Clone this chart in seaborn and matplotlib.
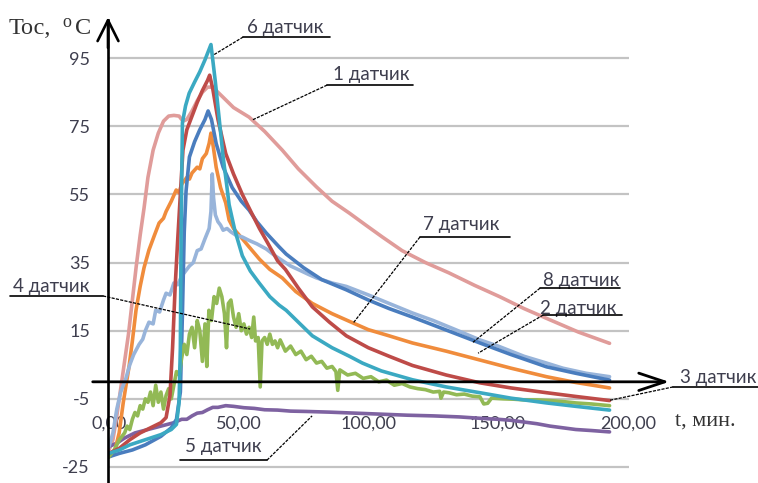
import matplotlib
matplotlib.use("Agg")
import matplotlib.pyplot as plt
import pandas as pd
import seaborn as sns

# ---- measured temperatures, °C, versus time, min ----
s1_t = [0, 1.5, 3, 4.5, 6, 7.5, 9, 10.5, 12, 13.5, 15, 17, 19, 21, 23, 25, 27, 28.5, 30, 32,
        34, 36, 38, 40, 41.3, 44, 48, 54, 60, 66.8, 73, 80, 86, 92.7, 99, 105.4, 113, 122, 131,
        141, 150.6, 160, 170, 181, 193]
s1_v = [-20, -17, -10, -2, 6, 14, 24, 34, 43, 51, 60, 68, 73, 76.5, 78, 78.2, 78, 76.5, 77, 79.5,
        82.5, 85, 86.5, 86.5, 85.5, 83.5, 80.5, 77.7, 73.5, 68, 62.5, 57.2, 53, 49.5, 46, 42.5,
        38.5, 35, 32, 28.3, 25, 21.5, 18.2, 14.6, 11.3]

s2_t = [0, 4, 9, 14, 20, 24, 26, 27.5, 28.3, 29, 29.7, 31, 33, 35, 37, 38.2, 39.5, 41.3, 44,
        47.5, 51, 54, 57, 60.6, 65.6, 68.3, 75, 82, 91.5, 100, 108, 117, 130, 143, 155, 168.7,
        180, 193]
s2_v = [-22, -21, -20, -18.5, -16, -13.5, -11, -3, 20, 44, 56, 66, 70.5, 74, 77, 79.5, 77, 70, 63,
        57, 53, 50.4, 47, 43.7, 39.6, 37.5, 33.5, 30, 27, 24, 21.5, 19, 15.2, 11.4, 8, 4.4,
        2.5, 0.5]

s3_t = [0, 4, 8, 12, 16, 20, 22, 23.5, 24.5, 25.5, 26.5, 27.5, 28.5, 30, 32, 34, 36, 38, 38.8,
        40, 42, 45, 48, 51.4, 55, 58, 61, 65, 68, 73, 78.4, 85, 91.5, 100, 108, 117, 130, 143,
        155, 168.7, 180, 193]
s3_v = [-21, -19.5, -17, -15, -13.5, -12, -10.5, -4, 10, 28, 42, 55, 68, 74, 78, 82, 85.5, 88.5, 90,
        86, 77, 67, 61, 55, 49.5, 45, 41, 35.5, 33, 27.5, 22, 17.5, 13.5, 10, 7.5, 4.8, 2, -0.3,
        -1.8, -3.2, -4.3, -5.5]

s4_t = [0, 1, 2, 3, 4, 5, 6, 7, 8, 9, 10, 11, 12, 13, 14, 15, 16, 17, 18, 19, 20, 21, 22, 23,
        24, 25, 26, 27, 28, 29, 30, 31, 32, 33, 34, 35, 36, 37, 37.7, 38.5, 39.5, 40.5, 41.5,
        42.5, 43.5, 44.5, 45.3, 46, 47, 48, 49, 50, 51, 52, 53, 54, 55, 55.8, 56.5, 57.5, 58.3,
        59, 60, 61, 62, 63, 64, 65, 66, 68, 70, 72, 74, 76, 78, 80, 82, 84, 86, 87.5, 88.2, 89,
        90, 92, 95, 98, 101, 104, 107, 110, 113, 116, 119, 122, 125, 127.5, 128, 129, 131, 134,
        137, 140, 143, 144.5, 146, 147.5, 152, 156, 160, 165, 170, 175, 180, 186, 193]
s4_v = [-22, -21, -20, -18.5, -17, -16, -15, -13, -14, -11, -9, -10, -7, -8, -5, -6, -3, -7, -1,
        -6, -3, -8, -4, -2, -5, -1, 3, 2, 7, 11, 8, 14, 16, 10, 18, 15, 6, 17, 4.5, 21, 18, 25,
        23, 27.5, 25, 20, 10, 23, 24, 19, 16, 20, 15, 17, 14, 16, 13, 19, 12, 13, -1.5,
        12, 13, 11, 14, 11, 12, 10, 12.3, 9, 10.5, 8, 9, 6.5, 7.5, 5.5, 6, 4, 4.5, 3, -2.5, 3.5,
        3, 2, 2.5, 1, 1.5, 0, 0.5, -1, -0.5, -1.5, -2, -2.3, -3, -2.8, -4.8, -3, -3.2, -3.8,
        -3.6, -4.2, -4.4, -6.5, -6.3, -4.8, -5, -5.1, -5.3, -5.3, -5.5, -5.8, -6.2, -6.5, -7]

s5_t = [0, 3, 6, 10, 15, 20, 25, 28, 30, 32, 34, 36, 38, 40, 42, 45, 48, 52, 56, 60, 65, 70,
        76, 85, 95, 105, 115, 125, 135, 145, 150, 155, 160, 165, 170, 175, 180, 186, 193]
s5_v = [-19, -18, -16.5, -15, -14, -13, -12, -11, -11, -10, -9.2, -9, -8.2, -7.5, -7.5, -7, -7.2,
        -7.6, -7.8, -8.2, -8.3, -8.6, -8.7, -8.9, -9.2, -9.5, -9.8, -10, -10.3, -10.8, -11,
        -11.3, -11.8, -12.3, -13, -13.5, -14, -14.3, -14.7]

s6_t = [0, 4, 8, 12, 16, 20, 24, 26, 27, 27.5, 27.8, 28.3, 29.5, 30.9, 33, 35, 37, 39.3, 41,
        42.5, 44, 45.5, 46.3, 48.5, 51.4, 54.5, 57.9, 62, 65.6, 68.3, 73, 78.4, 86, 92.7, 97.7,
        105, 117, 130, 143, 155, 168.7, 180, 193]
s6_v = [-21, -20, -18.5, -17.5, -16.5, -15.5, -14, -12.5, -6, 10, 45, 76, 81, 84.7, 88, 91, 94.5,
        99, 88, 77, 66, 57, 52, 44.5, 37, 32.5, 29, 25, 22.5, 21, 17.5, 13.5, 10, 7.5, 5.5, 3.2,
        0.6, -1.5, -3.2, -4.8, -6.2, -7.2, -8.3]

s7_t = [0, 2, 3.9, 5.5, 7.7, 9, 10.4, 12, 13.5, 15.4, 17.5, 19.3, 21, 22, 24, 25.9, 27, 28,
        30, 31, 32, 34, 35, 36, 37.5, 38.6, 39.3, 40.2, 41.3, 43, 45, 46.3, 48, 51.4, 54, 58,
        62, 66.8, 72, 78.4, 86, 94, 100, 108, 117, 130, 143, 155, 168.7, 180, 193]
s7_v = [-22, -21, -15, -6, 4.4, 12, 21, 28, 33.5, 38.7, 43, 46.6, 48, 50, 53, 56.3, 55.5, 58,
        60, 59.5, 61.3, 63, 62.5, 65.5, 67, 70, 73, 69, 63, 57, 52.5, 47.5, 45, 42, 39.6, 36,
        33, 30.5, 26.5, 23, 20, 17.3, 15.3, 13.5, 11.4, 9, 6.4, 4, 1.5, -0.2, -1.8]

s8_t = [0, 1.5, 3, 4.5, 6.5, 8, 9.5, 11.6, 13, 14, 15.4, 17, 18, 19.5, 21, 22, 23.5, 25, 26.5,
        28, 29.5, 31, 32.5, 34, 35.5, 37, 38.6, 39.3, 39.8, 40.3, 41, 42, 43, 44, 45.5, 47, 49,
        51.4, 54, 57, 60.6, 64, 67, 70, 73.4, 77, 80, 86, 91.5, 100, 108, 117, 125, 133, 143,
        150, 160, 168.7, 175, 184, 193]
s8_v = [-19, -15, -8, -3, 1, 5, 8, 11, 12.5, 15, 17.5, 17, 21, 20.5, 24, 26, 25.5, 29, 28.5,
        31, 32.5, 34, 35, 38.5, 39, 42, 45, 50, 61, 54, 49, 47, 46, 44.5, 45, 44, 43, 42.5, 41.5,
        40.5, 39, 37, 35.5, 34, 32.8, 31.5, 30.5, 29, 28, 25.5, 23, 20.2, 18, 15.5, 12.3, 10.5,
        7.5, 5.5, 4, 2.5, 1.5]

sensor_names = ["1 датчик", "5 датчик", "7 датчик", "8 датчик", "2 датчик",
                "4 датчик", "3 датчик", "6 датчик"]
sensor_colors = ["#E09C9A", "#7E62A1", "#F08C3C", "#98B4DA", "#4A7DBE",
                 "#92B955", "#BE4B48", "#3BA9C2"]

y_ticks = [-25, -5, 15, 35, 55, 75, 95]
y_tick_labels = ["-25", "-5", "15", "35", "55", "75", "95"]
x_ticks = [0, 50, 100, 150, 200]
x_tick_labels = ["0,00", "50,00", "100,00", "150,00", "200,00"]

series = {
    "1 датчик": (s1_t, s1_v), "2 датчик": (s2_t, s2_v), "3 датчик": (s3_t, s3_v),
    "4 датчик": (s4_t, s4_v), "5 датчик": (s5_t, s5_v), "6 датчик": (s6_t, s6_v),
    "7 датчик": (s7_t, s7_v), "8 датчик": (s8_t, s8_v),
}
frames = [pd.DataFrame({"t": t, "T": v, "sensor": name}) for name, (t, v) in series.items()]
df = pd.concat(frames, ignore_index=True)

sns.set_theme(style="white")
plt.rcParams["font.family"] = ["Lato", "DejaVu Sans"]

fig = plt.figure(figsize=(7.58, 4.83), dpi=100)
ax = fig.add_axes([108 / 758, 0, 521 / 758, 463 / 483])
ax.set_xlim(-0.4, 200.5)
ax.set_ylim(-29.7, 106.2)

sns.lineplot(data=df, x="t", y="T", hue="sensor", hue_order=sensor_names,
             palette=dict(zip(sensor_names, sensor_colors)), linewidth=2.6,
             estimator=None, sort=False, legend=False, ax=ax, zorder=3)

# horizontal grid and value axis
ax.set_yticks(y_ticks, labels=y_tick_labels)
ax.yaxis.grid(True, color="#C3C3C3", linewidth=1.6)
ax.xaxis.grid(False)
ax.tick_params(axis="y", length=0, pad=13, labelsize=13, labelcolor="#3E3E4E")
for side in ("top", "right", "bottom"):
    ax.spines[side].set_visible(False)
ax.spines["left"].set_color("black")
ax.spines["left"].set_linewidth(1.9)
ax.spines["left"].set_zorder(4)

# time axis crossing at 0 °C
ax.spines["bottom"].set_position(("data", 0))
ax.set_xticks(x_ticks, labels=x_tick_labels)
ax.tick_params(axis="x", direction="out", length=6, width=1, color="#808080",
               pad=18, labelsize=13, labelcolor="#3E3E4E")
ax.set_xlabel("")
ax.set_ylabel("")

ax.annotate("", xy=(216, 0), xytext=(-6.3, 0), annotation_clip=False,
            arrowprops=dict(arrowstyle="->,head_length=0.75,head_width=0.25",
                            color="black", lw=2.0, mutation_scale=25,
                            shrinkA=0, shrinkB=0), zorder=5)
ax.annotate("", xy=(-0.4, 107.0), xytext=(-0.4, 98), annotation_clip=False,
            arrowprops=dict(arrowstyle="->,head_length=0.6,head_width=0.3",
                            color="black", lw=1.9, mutation_scale=25,
                            shrinkA=0, shrinkB=0), zorder=5)

# axis titles
fig.text(9 / 758, 1 - 34 / 483, "Тос,", family="Liberation Serif", fontsize=17.5,
         color="#333333", va="baseline")
fig.text(62 / 758, 1 - 27 / 483, "о", family="Liberation Serif", fontsize=13,
         color="#333333", va="baseline")
fig.text(75 / 758, 1 - 34 / 483, "С", family="Liberation Serif", fontsize=17.5,
         color="#333333", va="baseline")
fig.text(675 / 758, 1 - 426 / 483, "t, мин.", family="Liberation Serif", fontsize=16,
         color="#333333", va="baseline")

# sensor callouts: text, underline and leader to the curve
callouts = [
    ("6 датчик", (53.2, 104.1), (51.7, 85.2, 101.2), (40.2, 95.9)),
    ("1 датчик", (86.4, 90.3), (84.1, 117.2, 87.1), (55.1, 76.8)),
    ("7 датчик", (121.1, 46.3), (119.9, 154.6, 42.5), (94.1, 17.2)),
    ("8 датчик", (167.4, 29.6), (166.2, 197.1, 27.5), (140.0, 11.4)),
    ("2 датчик", (166.2, 21.6), (167.4, 197.8, 19.6), (142.3, 8.4)),
    ("3 датчик", (220.3, 1.4), (217.5, 252.0, -1.5), (193.2, -5.4)),
    ("4 датчик", (-37.0, 28.1), (-38.2, -2.3, 25.2), (54.4, 15.5)),
    ("5 датчик", (29.3, -19.1), (27.4, 60.9, -23.0), (78.3, -10.0)),
]
for label, (tx, ty), (ux0, ux1, uy), (px, py) in callouts:
    ax.text(tx, ty, label, ha="left", va="center", fontsize=13.5, color="#3E3E4E",
            clip_on=False, zorder=6)
    ax.plot([ux0, ux1], [uy, uy], color="black", lw=1.2, clip_on=False, zorder=6)
    lead_x = ux1 if px > ux1 else ux0
    ax.plot([lead_x, px], [uy, py], color="black", lw=0.9, ls=(0, (2.5, 1)),
            clip_on=False, zorder=6)

fig.savefig("out.png", dpi=100)
